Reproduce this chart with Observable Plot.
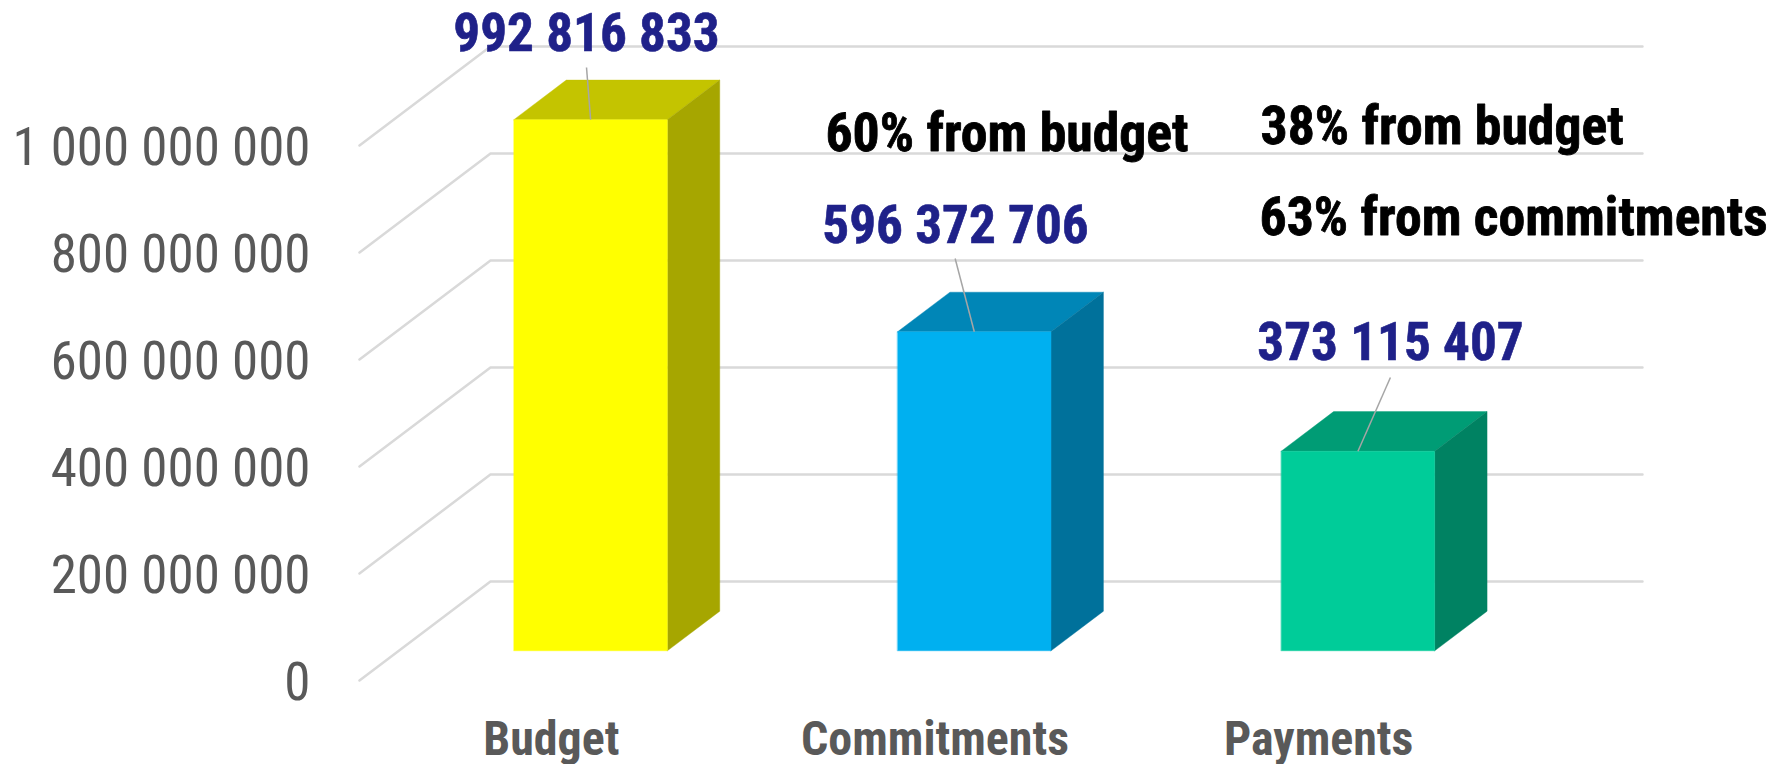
<!DOCTYPE html>
<html><head><meta charset="utf-8">
<script src="https://cdn.jsdelivr.net/npm/d3@7"></script>
<script src="https://cdn.jsdelivr.net/npm/@observablehq/plot@0.6"></script>
<style>html,body{margin:0;padding:0;background:#fff}
text{font-stretch:75%}</style>
</head><body><div id="chart"></div>
<script>
const categories = ["Budget", "Commitments", "Payments"];
const values = [992816833, 596372706, 373115407];
const frontColors = ["#FFFF00", "#00B0F0", "#00CC99"];
const topColors = ["#C4C400", "#0086B7", "#009C75"];
const sideColors = ["#A6A600", "#00719B", "#008262"];
const yTicks = [0, 200000000, 400000000, 600000000, 800000000, 1000000000];
const valueLabelX = [0.5917, 1.5534, 2.6872];
const valueLabelY = [1.2112e9, 0.8523e9, 0.6336e9];
const leaderTopX = [0.5917, 1.5525, 2.687];
const leaderTopY = [1.1458e9, 0.7888e9, 0.5664e9];
const notes = ["60% from budget", "38% from budget", "63% from commitments"];
const noteX = [1.6876, 2.8217, 3.0081];
const noteY = [1.0243e9, 1.0374e9, 0.8673e9];
const depthX = 0.3414, depthY = 0.185e9, zFront = 0.3, zBack = 0.7, halfBar = 0.2, gridEnd = 3.0026;

const fmt = v => d3.format(",")(v).replace(/,/g, " ");
const P = (x, y, z) => ({x: x + z * depthX, y: y + z * depthY});
const FONT = "Roboto";

const grid = yTicks.flatMap(t => [
  {t, ...P(0, t, 0)}, {t, ...P(0, t, 1)}, {t, ...P(gridEnd, t, 1)}
]);
const faces = categories.flatMap((c, i) => {
  const l = i + 0.5 - halfBar, r = i + 0.5 + halfBar, v = values[i];
  const face = (name, fill, pts) => pts.map(([x, y, z]) => ({key: c + name, fill, ...P(x, y, z)}));
  return [
    ...face("top", topColors[i], [[l, v, zFront], [l, v, zBack], [r, v, zBack], [r, v, zFront]]),
    ...face("side", sideColors[i], [[r, v, zFront], [r, v, zBack], [r, 0, zBack], [r, 0, zFront]]),
    ...face("front", frontColors[i], [[l, v, zFront], [r, v, zFront], [r, 0, zFront], [l, 0, zFront]])
  ];
});
const leaders = categories.map((c, i) => ({
  x1: leaderTopX[i], y1: leaderTopY[i], ...(p => ({x2: p.x, y2: p.y}))(P(i + 0.5, values[i], zFront))
}));
const labels = values.map((v, i) => ({text: fmt(v), x: valueLabelX[i], y: valueLabelY[i]}));
const noteRows = notes.map((text, i) => ({text, x: noteX[i], y: noteY[i]}));

const chart = Plot.plot({
  width: 1784, height: 764,
  marginLeft: 316, marginRight: 0, marginTop: 0, marginBottom: 84,
  style: {background: "#fff", fontFamily: FONT},
  x: {type: "linear", domain: [0, 3], range: [359, 1510]},
  y: {type: "linear", domain: [0, 1e9], range: [680, 145]},
  marks: [
    Plot.line(grid, {x: "x", y: "y", z: "t", stroke: "#D9D9D9", strokeWidth: 2.5}),
    Plot.axisY({ticks: yTicks, tickSize: 0, tickPadding: 6, tickFormat: fmt, fontSize: 53, dy: 2.3, fill: "#595959", label: null}),
    Plot.axisX({ticks: [0.5, 1.5, 2.5], tickSize: 0, tickPadding: 33, dy: 7, tickFormat: d => categories[d - 0.5], fontSize: 48, fontWeight: "bold", fill: "#595959", label: null}),
    Plot.line(faces, {x: "x", y: "y", z: "key", fill: "fill", stroke: "fill", strokeWidth: 0.4, curve: "linear-closed"}),
    Plot.link(leaders, {x1: "x1", y1: "y1", x2: "x2", y2: "y2", stroke: "#A6A6A6", strokeWidth: 1.5}),
    Plot.text(labels, {x: "x", y: "y", dy: 1, text: "text", fontSize: 53.2, fontWeight: "bold", fill: "#1F2189", stroke: "#1F2189", strokeWidth: 0.6}),
    Plot.text(noteRows, {x: "x", y: "y", dy: 1, text: "text", fontSize: 53.7, fontWeight: "bold", fill: "#000", stroke: "#000", strokeWidth: 0.8})
  ]
});
document.getElementById("chart").appendChild(chart);
</script></body></html>
